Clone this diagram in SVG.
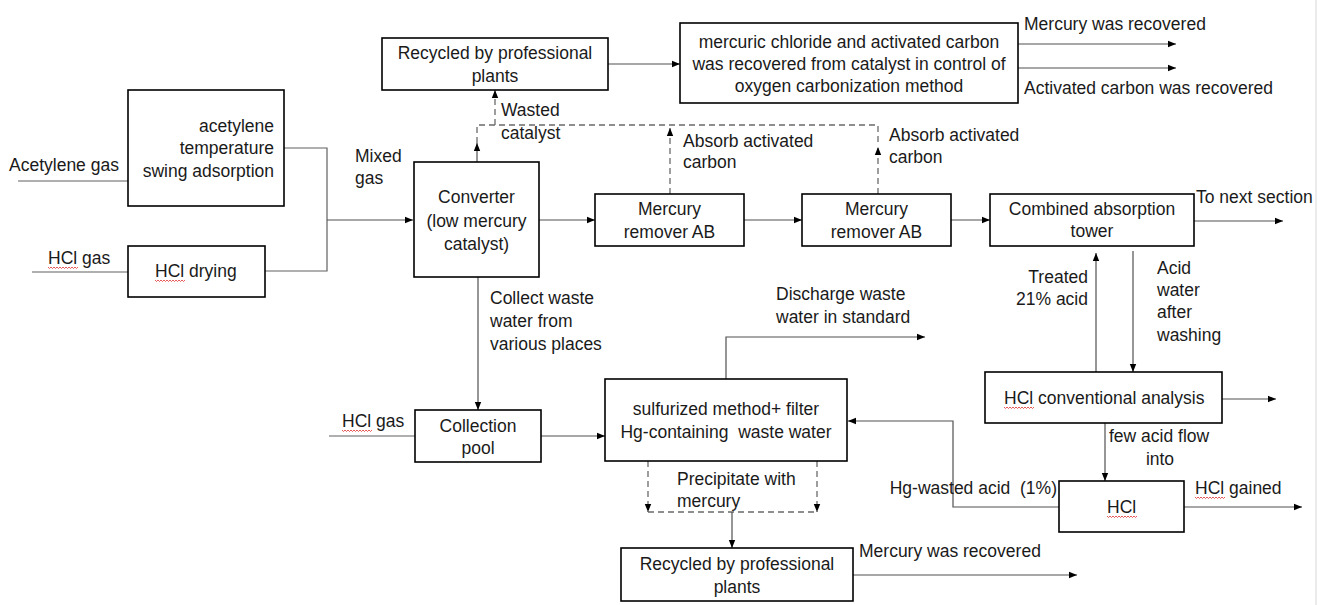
<svg xmlns="http://www.w3.org/2000/svg" xmlns:xlink="http://www.w3.org/1999/xlink" width="1324" height="605" viewBox="0 0 1324 605">
<style>
.t{font-family:"Liberation Sans",Arial,sans-serif;font-size:17.5px;fill:#1a1a1a}
.c{text-anchor:middle}
.e{text-anchor:end}
.box{fill:#fff;stroke:#000;stroke-width:1.6}
.ln{fill:none;stroke:#606060;stroke-width:1.2}
.ar{fill:none;stroke:#505050;stroke-width:1.2;marker-end:url(#ah)}
.ds{fill:none;stroke:#6a6a6a;stroke-width:1.3;stroke-dasharray:6 4}
.dsa{fill:none;stroke:#6a6a6a;stroke-width:1.3;stroke-dasharray:6 4;marker-end:url(#ah)}
.wv{fill:none;stroke:#e03030;stroke-width:0.8}
</style>
<defs>
<marker id="ah" viewBox="0 0 10 10" refX="10" refY="5" markerWidth="8" markerHeight="8" orient="auto" markerUnits="userSpaceOnUse">
<path d="M0,1 L10,5 L0,9 z" fill="#000"/>
</marker>
<path id="wave" d="M0,0 l1.5,1.5 l1.5,-1.5 l1.5,1.5 l1.5,-1.5 l1.5,1.5 l1.5,-1.5 l1.5,1.5 l1.5,-1.5 l1.5,1.5 l1.5,-1.5 l1.5,1.5 l1.5,-1.5 l1.5,1.5 l1.5,-1.5 l1.5,1.5 l1.5,-1.5 l1.5,1.5 l1.5,-1.5 l1.5,1.5 l1.5,-1.5"/>
</defs>
<rect width="1324" height="605" fill="#fff"/>
<line x1="1316" y1="0" x2="1316" y2="605" stroke="#d9d9d9" stroke-width="1"/>

<g id="connectors">
<path class="ln" d="M18,181 H128"/>
<path class="ln" d="M32,272 H128"/>
<path class="ln" d="M284,148 H327 V271 H265"/>
<path class="ar" d="M327,220 H413"/>
<path class="ar" d="M539,220 H595"/>
<path class="ar" d="M744,220 H802"/>
<path class="ar" d="M951,220 H990"/>
<path class="ar" d="M1194,221 H1283"/>
<path class="ar" d="M477,162 V143"/>
<path class="ds" d="M477,143 V125 H878 V145"/>
<path class="dsa" d="M495,125 V90"/>
<path class="dsa" d="M670,194 V128"/>
<path class="dsa" d="M878,194 V147"/>
<path class="ar" d="M608,64 H680"/>
<path class="ar" d="M1018,44 H1176"/>
<path class="ar" d="M1018,68 H1176"/>
<path class="ar" d="M478,277 V410"/>
<path class="ln" d="M329,436 H415"/>
<path class="ar" d="M541,436 H605"/>
<path class="ar" d="M726,379 V337 H925"/>
<path class="ar" d="M1096,372 V253"/>
<path class="ar" d="M1133,251 V372"/>
<path class="ar" d="M1222,399 H1276"/>
<path class="ar" d="M1105,423 V481"/>
<path class="ar" d="M1184,507 H1302"/>
<path class="ar" d="M1059,507 H953 V421 H848"/>
<path class="dsa" d="M648,461 V512"/>
<path class="dsa" d="M817,461 V512"/>
<path class="ds" d="M648,512 H817"/>
<path class="ar" d="M732,512 V548"/>
<path class="ar" d="M853,575 H1077"/>
</g>

<g id="tsa">
<rect class="box" x="128" y="90" width="156" height="116"/>
<text class="t e" x="274" y="132">acetylene</text>
<text class="t e" x="274" y="154">temperature</text>
<text class="t e" x="274" y="177">swing adsorption</text>
</g>
<g id="hcldry">
<rect class="box" x="128" y="246" width="137" height="51"/>
<text class="t" x="155" y="277">HCl drying</text>
<use href="#wave" class="wv" x="155" y="280"/>
</g>
<g id="rec1">
<rect class="box" x="382" y="38" width="226" height="52"/>
<text class="t c" x="495" y="59">Recycled by professional</text>
<text class="t c" x="495" y="82">plants</text>
</g>
<g id="merc">
<rect class="box" x="680" y="23" width="338" height="80"/>
<text class="t c" x="849" y="48">mercuric chloride and activated carbon</text>
<text class="t c" x="849" y="70">was recovered from catalyst in control of</text>
<text class="t c" x="849" y="92">oxygen carbonization method</text>
</g>
<g id="conv">
<rect class="box" x="414" y="162" width="125" height="115"/>
<text class="t c" x="476.5" y="203">Converter</text>
<text class="t c" x="476.5" y="227">(low mercury</text>
<text class="t c" x="476.5" y="250">catalyst)</text>
</g>
<g id="rem1">
<rect class="box" x="595" y="194" width="149" height="52"/>
<text class="t c" x="669.5" y="215">Mercury</text>
<text class="t c" x="669.5" y="238">remover AB</text>
</g>
<g id="rem2">
<rect class="box" x="802" y="194" width="149" height="52"/>
<text class="t c" x="876.5" y="215">Mercury</text>
<text class="t c" x="876.5" y="238">remover AB</text>
</g>
<g id="comb">
<rect class="box" x="990" y="194" width="204" height="52"/>
<text class="t c" x="1092" y="215">Combined absorption</text>
<text class="t c" x="1092" y="237">tower</text>
</g>
<g id="pool">
<rect class="box" x="415" y="410" width="126" height="52"/>
<text class="t c" x="478" y="432">Collection</text>
<text class="t c" x="478" y="454">pool</text>
</g>
<g id="sulf">
<rect class="box" x="605" y="379" width="242" height="82"/>
<text class="t c" x="726" y="415">sulfurized method+ filter</text>
<text class="t c" x="726" y="438" xml:space="preserve">Hg-containing  waste water</text>
</g>
<g id="hclan">
<rect class="box" x="985" y="372" width="237" height="51"/>
<text class="t" x="1004" y="404">HCl conventional analysis</text>
<use href="#wave" class="wv" x="1004" y="407"/>
</g>
<g id="hcl">
<rect class="box" x="1059" y="481" width="125" height="51"/>
<text class="t" x="1107" y="513">HCl</text>
<use href="#wave" class="wv" x="1107" y="516"/>
</g>
<g id="rec2">
<rect class="box" x="621" y="548" width="232" height="53"/>
<text class="t c" x="737" y="570">Recycled by professional</text>
<text class="t c" x="737" y="593">plants</text>
</g>

<g id="labels">
<text class="t" x="9" y="171">Acetylene gas</text>
<text class="t" x="48" y="264">HCl gas</text>
<use href="#wave" class="wv" x="48" y="267"/>
<text class="t" x="355" y="162">Mixed</text>
<text class="t" x="355" y="184">gas</text>
<text class="t" x="501" y="116">Wasted</text>
<text class="t" x="501" y="139">catalyst</text>
<text class="t" x="683" y="147">Absorb activated</text>
<text class="t" x="683" y="168">carbon</text>
<text class="t" x="889" y="141">Absorb activated</text>
<text class="t" x="889" y="163">carbon</text>
<text class="t" x="1024" y="30">Mercury was recovered</text>
<text class="t" x="1024" y="94">Activated carbon was recovered</text>
<text class="t" x="1196" y="203">To next section</text>
<text class="t e" x="1088" y="283">Treated</text>
<text class="t e" x="1088" y="305">21% acid</text>
<text class="t" x="1157" y="274">Acid</text>
<text class="t" x="1157" y="296">water</text>
<text class="t" x="1157" y="318">after</text>
<text class="t" x="1157" y="341">washing</text>
<text class="t" x="490" y="304">Collect waste</text>
<text class="t" x="490" y="327">water from</text>
<text class="t" x="490" y="350">various places</text>
<text class="t" x="342" y="427">HCl gas</text>
<use href="#wave" class="wv" x="342" y="430"/>
<text class="t" x="776" y="300">Discharge waste</text>
<text class="t" x="776" y="323">water in standard</text>
<text class="t" x="1109" y="442">few acid flow</text>
<text class="t c" x="1160" y="465">into</text>
<text class="t" x="1195" y="494">HCl gained</text>
<use href="#wave" class="wv" x="1195" y="497"/>
<text class="t e" x="1057" y="494" xml:space="preserve">Hg-wasted acid  (1%)</text>
<text class="t" x="677" y="485">Precipitate with</text>
<text class="t" x="677" y="507">mercury</text>
<text class="t" x="859" y="557">Mercury was recovered</text>
</g>
</svg>
